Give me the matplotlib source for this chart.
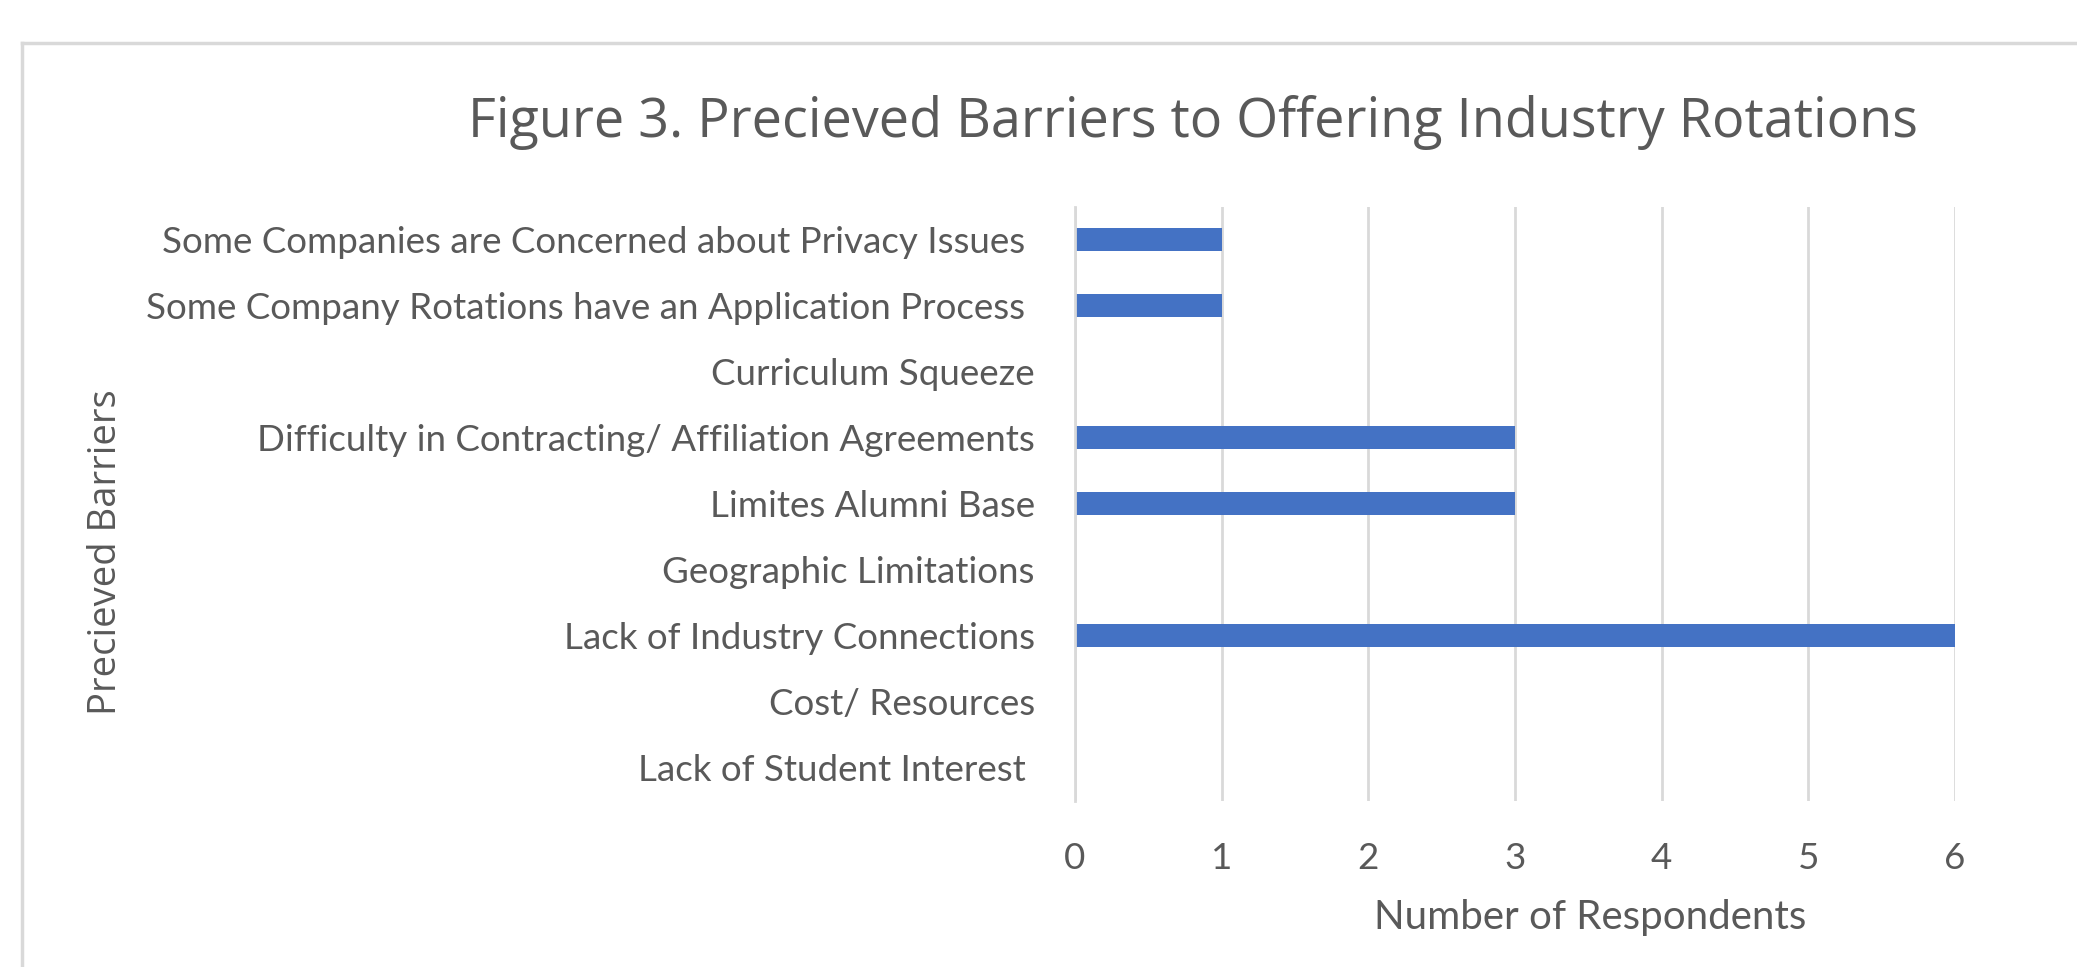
import matplotlib
matplotlib.use("Agg")
import matplotlib.pyplot as plt
from matplotlib.lines import Line2D

categories = [
    "Lack of Student Interest ",
    "Cost/ Resources",
    "Lack of Industry Connections",
    "Geographic Limitations",
    "Limites Alumni Base",
    "Difficulty in Contracting/ Affiliation Agreements",
    "Curriculum Squeeze",
    "Some Company Rotations have an Application Process ",
    "Some Companies are Concerned about Privacy Issues ",
]
values = [0, 0, 6, 0, 3, 3, 0, 1, 1]
x_ticks = [0, 1, 2, 3, 4, 5, 6]

title = "Figure 3. Precieved Barriers to Offering Industry Rotations"
xlabel = "Number of Respondents"
ylabel = "Precieved Barriers"

W, H = 2077, 967
fig = plt.figure(figsize=(W / 100, H / 100), dpi=100)
fig.patch.set_facecolor("white")

text_color = "#595959"
grid_color = "#d9d9d9"
bar_color = "#4472C4"

# outer chart border (top and left visible)
fig.add_artist(Line2D([22 / W, 22 / W], [0, 1 - 43 / H], transform=fig.transFigure,
                      color=grid_color, lw=2.5))
fig.add_artist(Line2D([22 / W, 1], [1 - 43 / H, 1 - 43 / H], transform=fig.transFigure,
                      color=grid_color, lw=2.5))

left, right = 1075 / W, 1955 / W
bottom, top = 1 - 800.5 / H, 1 - 206.5 / H
ax = fig.add_axes([left, bottom, right - left, top - bottom])

y = list(range(len(categories)))
ax.barh(y, values, height=0.35, color=bar_color, zorder=3)
ax.set_xlim(0, 6)
ax.set_ylim(-0.5, len(categories) - 0.5)
ax.set_xticks(x_ticks)
ax.set_xticklabels([str(t) for t in x_ticks])
ax.set_yticks(y)
ax.set_yticklabels(categories)

for s in ["top", "right", "bottom"]:
    ax.spines[s].set_visible(False)
ax.spines["left"].set_color(grid_color)
ax.spines["left"].set_linewidth(2)
ax.spines["left"].set_zorder(4)

ax.grid(axis="x", color=grid_color, linewidth=2, zorder=0)
ax.set_axisbelow(True)
ax.tick_params(axis="both", length=0, colors=text_color)
ax.tick_params(axis="y", pad=29, labelsize=26.5)
ax.tick_params(axis="x", pad=30, labelsize=26.5)
for lab in ax.get_yticklabels() + ax.get_xticklabels():
    lab.set_fontfamily("Lato")
    lab.set_color(text_color)

fig.text(1193 / W, 1 - 123 / H, title, ha="center", va="center",
         fontsize=38.8, color=text_color, family="Open Sans")
fig.text(1590 / W, 1 - 918 / H, xlabel, ha="center", va="center",
         fontsize=29, color=text_color, family="Lato")
fig.text(106 / W, 1 - 552 / H, ylabel, ha="center", va="center", rotation=90,
         fontsize=27.5, color=text_color, family="Open Sans")

fig.savefig("out.png", dpi=100, facecolor="white")
